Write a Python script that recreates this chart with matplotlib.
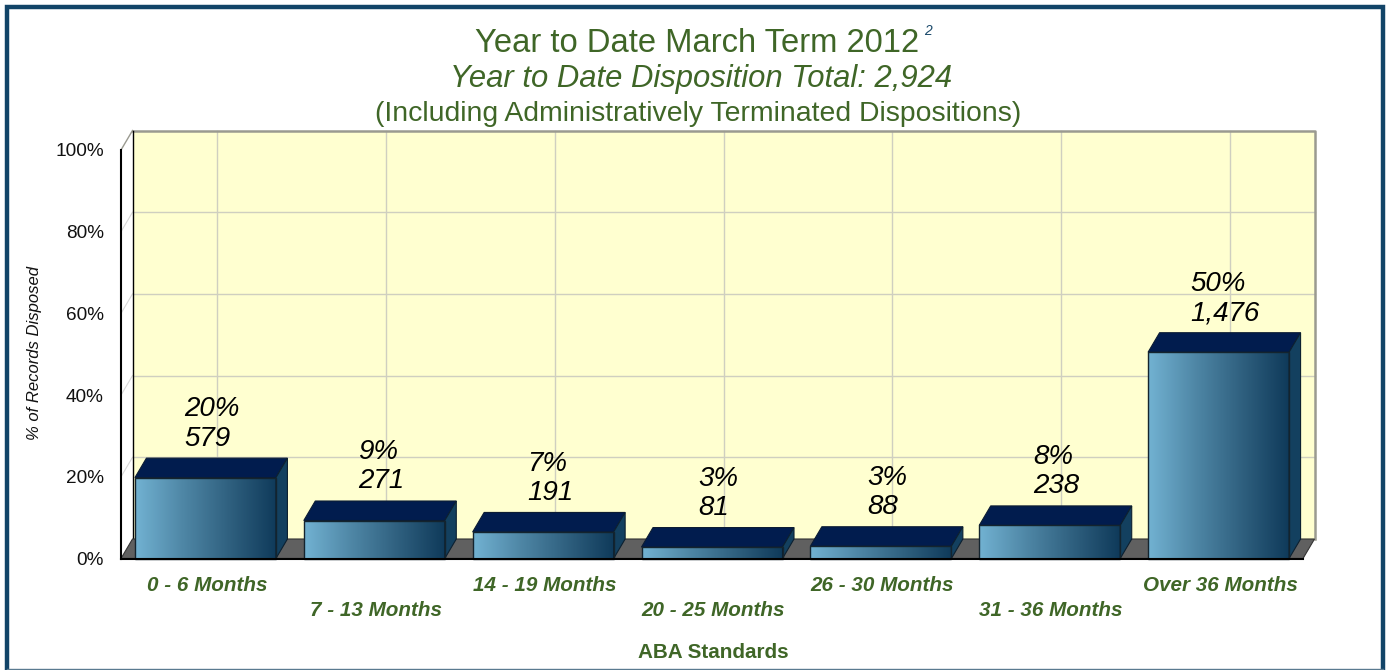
import numpy as np
import matplotlib
matplotlib.use('Agg')
import matplotlib.pyplot as plt
from matplotlib.colors import LinearSegmentedColormap
from matplotlib.lines import Line2D
from matplotlib.patches import Polygon, Rectangle
from matplotlib.transforms import ScaledTranslation

plt.rcParams['font.family'] = ['Liberation Sans', 'DejaVu Sans']

categories = ['0 - 6 Months', '7 - 13 Months', '14 - 19 Months', '20 - 25 Months',
	'26 - 30 Months', '31 - 36 Months', 'Over 36 Months']
percents = [19.8, 9.3, 6.5, 2.8, 3.0, 8.1, 50.5]
pct_labels = ['20%', '9%', '7%', '3%', '3%', '8%', '50%']
counts = ['579', '271', '191', '81', '88', '238', '1,476']
yticks = [0, 20, 40, 60, 80, 100]

W, H = 1389, 670
GREEN = '#3f6627'
FRAME = '#124468'
grad = LinearSegmentedColormap.from_list('bar', ['#72b2d2', '#4f87a6', '#2f607f', '#0f3a5a'])

fig = plt.figure(figsize=(W/100, H/100), dpi=100)
# front plane of the 3d box, in pixels
left, right, top, bottom = 121, 1303, 150, 558.5
ax = fig.add_axes([left/W, 1-bottom/H, (right-left)/W, (bottom-top)/H])

# depth of the box in data units
dx = 11.5/(right-left)*7
dy = 19.5/(bottom-top)*100
bw = 141/(right-left)*7

# back wall and floor
ax.add_patch(Polygon([(dx, dy), (7+dx, dy), (7+dx, 100+dy), (dx, 100+dy)], fc='#ffffd0', ec='none', zorder=1, clip_on=False))
ax.add_patch(Polygon([(0, 0), (7, 0), (7+dx, dy), (dx, dy)], fc='#606060', ec='#333333', lw=0.8, zorder=1.5, clip_on=False))

for y in yticks[1:-1]:
	ax.plot([dx, 7+dx], [y+dy, y+dy], color='#cfcfc0', lw=1, zorder=1.2, clip_on=False)
	ax.plot([0, dx], [y, y+dy], color='#d8d8d8', lw=0.8, zorder=1.2, clip_on=False)
for i in range(7):
	ax.plot([i+0.5+dx]*2, [dy, 100+dy], color='#cfcfc0', lw=1, zorder=1.2, clip_on=False)

ax.plot([dx, 7+dx, 7+dx], [100+dy, 100+dy, dy], color='#9a9a90', lw=1.8, zorder=1.3, clip_on=False)
ax.plot([0, dx], [100, 100+dy], color='#9a9a90', lw=1, zorder=1.3, clip_on=False)
ax.plot([dx, dx], [dy, 100+dy], color='black', lw=1, zorder=1.3, clip_on=False)
ax.plot([0, 0], [0, 100], color='black', lw=1.5, zorder=3, clip_on=False)
ax.plot([0, 7], [0, 0], color='black', lw=1.5, zorder=3, clip_on=False)

gradient = np.linspace(0, 1, 256).reshape(1, -1)
for i, p in enumerate(percents):
	x0 = i + 0.5 - bw/2
	x1 = x0 + bw
	ax.imshow(gradient, cmap=grad, extent=[x0, x1, 0, p], aspect='auto', zorder=2, clip_on=False)
	ax.add_patch(Rectangle((x0, 0), bw, p, fc='none', ec='#14242e', lw=1, zorder=2.2, clip_on=False))
	ax.add_patch(Polygon([(x0, p), (x1, p), (x1+dx, p+dy), (x0+dx, p+dy)], fc='#011c4e', ec='#0c1c34', lw=0.8, zorder=2.1, clip_on=False))
	ax.add_patch(Polygon([(x1, 0), (x1+dx, dy), (x1+dx, p+dy), (x1, p)], fc='#13405f', ec='#0c2030', lw=0.8, zorder=2.1, clip_on=False))
	ax.text(i+0.5+dx/2+0.006, p+dy+1.6, pct_labels[i]+'\n'+counts[i], ha='center', va='bottom', multialignment='left',
		fontsize=20, style='italic', color='black', linespacing=1.17, zorder=4, clip_on=False)

ax.set_xlim(0, 7)
ax.set_ylim(0, 100)
ax.patch.set_visible(False)
for s in ax.spines.values():
	s.set_visible(False)
ax.set_yticks(yticks)
ax.set_yticklabels([str(y)+'%' for y in yticks], fontsize=13.7, color='#111111')
ax.set_xticks(np.arange(7)+0.5)
ax.set_xticklabels(categories, fontsize=14.85, fontweight='bold', style='italic', color=GREEN)
ax.tick_params(axis='both', length=0)
ax.tick_params(axis='y', pad=12.5)
shift = ScaledTranslation(1.5/100, 0, fig.dpi_scale_trans)
for i, t in enumerate(ax.xaxis.get_major_ticks()):
	t.set_pad(12.7 if i % 2 == 0 else 30.7)
	t.label1.set_transform(t.label1.get_transform() + shift)

# titles etc are placed in figure pixels
def ftext(x, y, s, **kw):
	fig.text(x/W, 1-y/H, s, ha=kw.pop('ha', 'center'), va=kw.pop('va', 'center'), **kw)

ftext(697.5, 43, 'Year to Date March Term 2012', fontsize=23.6, color=GREEN)
ftext(924, 31, '2', fontsize=10, style='italic', color='#1b4a6b', ha='left')
ftext(701, 79, 'Year to Date Disposition Total: 2,924', fontsize=22.3, style='italic', color=GREEN)
ftext(698, 114, '(Including Administratively Terminated Dispositions)', fontsize=20.4, color=GREEN)
ftext(35, 353, '% of Records Disposed', fontsize=12, style='italic', rotation=90, color='#111111')
ftext(713.5, 653, 'ABA Standards', fontsize=14.9, fontweight='bold', color=GREEN)

# page frame, heavy on three sides and a hairline along the bottom
xl, xr, yt = 7/W, 1383/W, 1-7/H
fig.add_artist(Line2D([xl, xl, xr, xr], [0, yt, yt, 0], color=FRAME, lw=3.2, solid_joinstyle='miter'))
fig.add_artist(Line2D([xl, xr], [1.5/H, 1.5/H], color='#5a7a90', lw=1))

fig.savefig('out.png', dpi=100)
